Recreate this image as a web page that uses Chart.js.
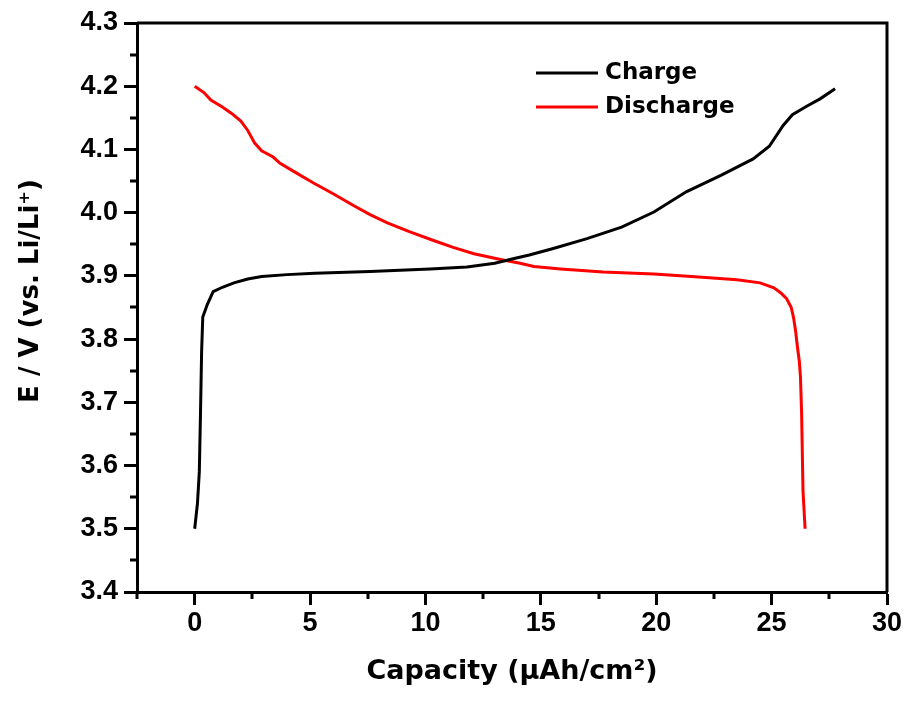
<!DOCTYPE html>
<html>
<head>
<meta charset="utf-8">
<script src="https://cdn.jsdelivr.net/npm/chart.js@4.4.1/dist/chart.umd.min.js"></script>
<style>
  html, body { margin: 0; padding: 0; background: #ffffff; }
  canvas { display: block; }
</style>
</head>
<body>
<canvas id="c" width="908" height="702"></canvas>
<script>
// ---- data ----
const chargeLabel = 'Charge';
const dischargeLabel = 'Discharge';

const chargeX = [0, 0.12, 0.2, 0.25, 0.3, 0.35, 0.55, 0.8, 1.2, 1.7, 2.3, 2.9, 4.0, 5.2, 7.6, 10.2, 11.8, 13.0, 13.8, 14.5, 15.5, 17.0, 18.5, 19.9, 21.3, 22.8, 24.2, 24.9, 25.5, 25.9, 26.5, 27.1, 27.75];
const chargeY = [3.50, 3.54, 3.59, 3.68, 3.78, 3.835, 3.855, 3.875, 3.882, 3.889, 3.895, 3.899, 3.902, 3.904, 3.907, 3.911, 3.914, 3.920, 3.927, 3.933, 3.943, 3.959, 3.977, 4.001, 4.033, 4.059, 4.085, 4.105, 4.138, 4.155, 4.168, 4.180, 4.196];

const dischargeX = [0, 0.4, 0.7, 1.2, 1.6, 2.0, 2.3, 2.6, 2.9, 3.4, 3.7, 4.4, 5.15, 6.0, 6.9, 7.6, 8.35, 9.3, 10.35, 11.2, 12.1, 13.25, 14.1, 14.7, 15.85, 17.7, 19.9, 22.0, 23.5, 24.5, 25.1, 25.4, 25.65, 25.85, 25.95, 26.05, 26.1, 26.2, 26.25, 26.3, 26.36, 26.45];
const dischargeY = [4.200, 4.190, 4.178, 4.167, 4.157, 4.145, 4.130, 4.110, 4.098, 4.088, 4.078, 4.063, 4.047, 4.030, 4.011, 3.997, 3.984, 3.970, 3.956, 3.945, 3.935, 3.926, 3.920, 3.915, 3.911, 3.906, 3.903, 3.898, 3.894, 3.889, 3.881, 3.873, 3.864, 3.850, 3.834, 3.810, 3.793, 3.765, 3.740, 3.682, 3.560, 3.500];

const xMajorTicks = [0, 5, 10, 15, 20, 25, 30];
const xMinorTicks = [-2.5, 2.5, 7.5, 12.5, 17.5, 22.5, 27.5];
const yMajorTicks = [3.4, 3.5, 3.6, 3.7, 3.8, 3.9, 4.0, 4.1, 4.2, 4.3];
const yMinorTicks = [3.45, 3.55, 3.65, 3.75, 3.85, 3.95, 4.05, 4.15, 4.25];

const xTitle = 'Capacity (\u03BCAh/cm\u00B2)';
const yTitle = 'E / V (vs. Li/Li\u207A)';

// ---- chart ----
const toPoints = (xs, ys) => xs.map((x, i) => ({ x: x, y: ys[i] }));

const tickFont = { family: '"Liberation Sans", Arial, sans-serif', size: 27, weight: 'bold' };
const titleFamily = '"DejaVu Sans", sans-serif';

const decorPlugin = {
  id: 'decor',
  afterDraw(chart) {
    const ctx = chart.ctx;
    const a = chart.chartArea;
    const xs = chart.scales.x, ys = chart.scales.y;
    ctx.save();
    ctx.strokeStyle = '#000';
    ctx.lineWidth = 3;
    // top & right frame
    ctx.beginPath();
    ctx.moveTo(a.left, a.top);
    ctx.lineTo(a.right, a.top);
    ctx.lineTo(a.right, a.bottom);
    ctx.stroke();
    // minor ticks
    ctx.beginPath();
    xMinorTicks.forEach(v => {
      const px = Math.round(xs.getPixelForValue(v));
      ctx.moveTo(px, a.bottom);
      ctx.lineTo(px, a.bottom + 7);
    });
    yMinorTicks.forEach(v => {
      const py = Math.round(ys.getPixelForValue(v));
      ctx.moveTo(a.left, py);
      ctx.lineTo(a.left - 7, py);
    });
    ctx.stroke();
    // y title
    ctx.fillStyle = '#000';
    ctx.font = 'bold 26px ' + titleFamily;
    ctx.textAlign = 'center';
    ctx.textBaseline = 'middle';
    ctx.translate(31, 291);
    ctx.rotate(-Math.PI / 2);
    ctx.fillText(yTitle, 0, 0);
    ctx.restore();
    // legend
    ctx.save();
    chart.data.datasets.forEach((ds, i) => {
      const y = 73 + 34 * i;
      ctx.strokeStyle = ds.borderColor;
      ctx.lineWidth = 3;
      ctx.beginPath();
      ctx.moveTo(536, y);
      ctx.lineTo(598, y);
      ctx.stroke();
      ctx.fillStyle = '#000';
      ctx.font = 'bold 23px ' + titleFamily;
      ctx.textAlign = 'left';
      ctx.textBaseline = 'middle';
      ctx.fillText(ds.label, 605, y);
    });
    ctx.restore();
  }
};

new Chart(document.getElementById('c'), {
  type: 'line',
  data: {
    datasets: [
      {
        label: chargeLabel,
        data: toPoints(chargeX, chargeY),
        borderColor: '#000000',
        borderWidth: 3,
        pointRadius: 0,
        tension: 0,
        fill: false
      },
      {
        label: dischargeLabel,
        data: toPoints(dischargeX, dischargeY),
        borderColor: '#ff0000',
        borderWidth: 3,
        pointRadius: 0,
        tension: 0,
        fill: false
      }
    ]
  },
  options: {
    responsive: false,
    animation: false,
    devicePixelRatio: 1,
    layout: { padding: { left: 0, top: 23, right: 21, bottom: 0 } },
    plugins: {
      legend: { display: false },
      tooltip: { enabled: false }
    },
    scales: {
      x: {
        type: 'linear',
        min: -2.5,
        max: 30,
        afterBuildTicks: s => { s.ticks = xMajorTicks.map(v => ({ value: v })); },
        afterFit: s => { s.height = 110; },
        ticks: {
          color: '#000',
          font: tickFont,
          padding: 2,
          maxRotation: 0,
          autoSkip: false,
          callback: v => String(v)
        },
        grid: {
          drawOnChartArea: false,
          drawTicks: true,
          tickLength: 13,
          tickWidth: 3,
          tickColor: '#000'
        },
        border: { display: true, color: '#000', width: 3 },
        title: {
          display: true,
          text: xTitle,
          color: '#000',
          font: { family: titleFamily, size: 27, weight: 'bold' },
          padding: { top: 0, bottom: 14 }
        }
      },
      y: {
        type: 'linear',
        min: 3.4,
        max: 4.3,
        afterBuildTicks: s => { s.ticks = yMajorTicks.map(v => ({ value: v })); },
        afterFit: s => { s.width = 137; },
        ticks: {
          color: '#000',
          font: tickFont,
          padding: 6,
          autoSkip: false,
          callback: v => Number(v).toFixed(1)
        },
        grid: {
          drawOnChartArea: false,
          drawTicks: true,
          tickLength: 13,
          tickWidth: 3,
          tickColor: '#000'
        },
        border: { display: true, color: '#000', width: 3 }
      }
    }
  },
  plugins: [decorPlugin]
});
</script>
</body>
</html>
